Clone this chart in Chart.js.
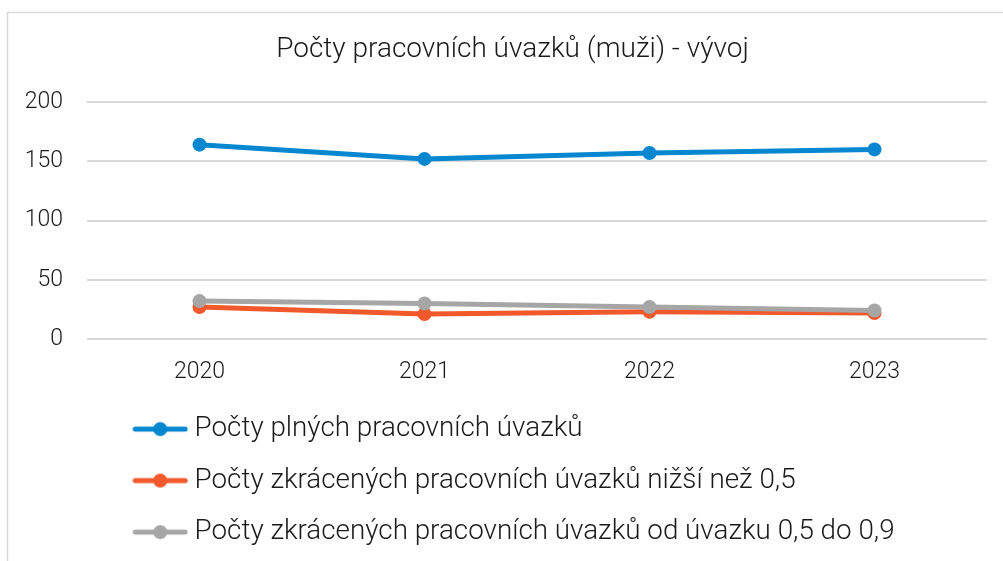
<!DOCTYPE html>
<html>
<head>
<meta charset="utf-8">
<script src="https://cdn.jsdelivr.net/npm/chart.js@4"></script>
<style>
  html, body { margin: 0; padding: 0; background: #ffffff; }
  #wrap { width: 1003px; height: 561px; position: relative; }
</style>
</head>
<body>
<div id="wrap"><canvas id="c" width="1003" height="561"></canvas></div>
<script>
const categories = ['2020', '2021', '2022', '2023'];
const fullTime = [164, 152, 157, 160];
const partLow = [27, 21, 23, 22];
const partMid = [32, 30, 27, 24];
const seriesNames = [
  'Počty plných pracovních úvazků',
  'Počty zkrácených pracovních úvazků nižší než 0,5',
  'Počty zkrácených pracovních úvazků od úvazku 0,5 do 0,9'
];
const yTicks = [0, 50, 100, 150, 200];
const titleText = 'Počty pracovních úvazků (muži) - vývoj';

const colors = ['#0787CF', '#F1582B', '#A6A6A6'];
const FONT = 'Roboto';

function legendIcon(color) {
  const cv = document.createElement('canvas');
  cv.width = 56; cv.height = 16;
  const g = cv.getContext('2d');
  g.strokeStyle = color; g.lineWidth = 5; g.lineCap = 'round';
  g.beginPath(); g.moveTo(3, 8); g.lineTo(53, 8); g.stroke();
  g.fillStyle = color;
  g.beginPath(); g.arc(28, 8, 7, 0, Math.PI * 2); g.fill();
  return cv;
}

const borderPlugin = {
  id: 'outerBorder',
  beforeDraw(chart) {
    const ctx = chart.ctx;
    ctx.save();
    ctx.strokeStyle = '#d9d9d9';
    ctx.lineWidth = 1.5;
    ctx.strokeRect(7.5, 12.5, 1010, 570);
    ctx.restore();
    if (chart.legend) { chart.legend.left = 116; }
    if (chart.titleBlock) { chart.titleBlock.left = 19; chart.titleBlock.right = 1006; }
  }
};

const allData = [fullTime, partLow, partMid];
new Chart(document.getElementById('c'), {
  type: 'line',
  data: {
    labels: categories,
    datasets: allData.map((d, i) => ({
      label: seriesNames[i],
      data: d,
      borderColor: colors[i],
      backgroundColor: colors[i],
      borderWidth: 5,
      pointStyle: 'circle',
      pointRadius: 7,
      pointHoverRadius: 7,
      pointBackgroundColor: colors[i],
      pointBorderWidth: 0,
      order: 2 - i,
      tension: 0
    }))
  },
  options: {
    responsive: false,
    animation: false,
    devicePixelRatio: 1,
    layout: { padding: { left: 0, right: 16, top: 0, bottom: 5 } },
    plugins: {
      title: {
        display: true,
        text: titleText,
        color: '#1a1a1a',
        font: { family: FONT, size: 28, weight: '300' },
        padding: { top: 33, bottom: 35.4 }
      },
      legend: {
        display: true,
        position: 'bottom',
        align: 'start',
        labels: {
          color: '#1a1a1a',
          font: { family: FONT, size: 27.8, weight: '300' },
          usePointStyle: true,
          pointStyleWidth: 41,
          padding: 23.7,
          sort: (a, b) => a.datasetIndex - b.datasetIndex,
          generateLabels(chart) {
            return chart.data.datasets.map((ds, i) => ({
              text: ds.label,
              datasetIndex: i,
              fillStyle: ds.borderColor,
              strokeStyle: ds.borderColor,
              fontColor: '#1a1a1a',
              lineWidth: 0,
              hidden: false,
              pointStyle: legendIcon(ds.borderColor)
            }));
          }
        }
      },
      tooltip: { enabled: false }
    },
    scales: {
      x: {
        offset: true,
        afterFit(scale) { scale.height = 52.5; },
        grid: { display: false, drawTicks: false },
        border: { display: false },
        ticks: {
          color: '#1a1a1a',
          font: { family: FONT, size: 23, weight: '300' },
          padding: 19
        }
      },
      y: {
        min: 0,
        max: 200,
        afterBuildTicks(scale) { scale.ticks = yTicks.map(v => ({ value: v })); },
        afterFit(scale) { scale.width = 87; },
        grid: { color: '#d9d9d9', lineWidth: 2, drawTicks: false },
        border: { display: false },
        ticks: {
          color: '#1a1a1a',
          font: { family: FONT, size: 23, weight: '300' },
          padding: 24
        }
      }
    }
  },
  plugins: [borderPlugin]
});
</script>
</body>
</html>
